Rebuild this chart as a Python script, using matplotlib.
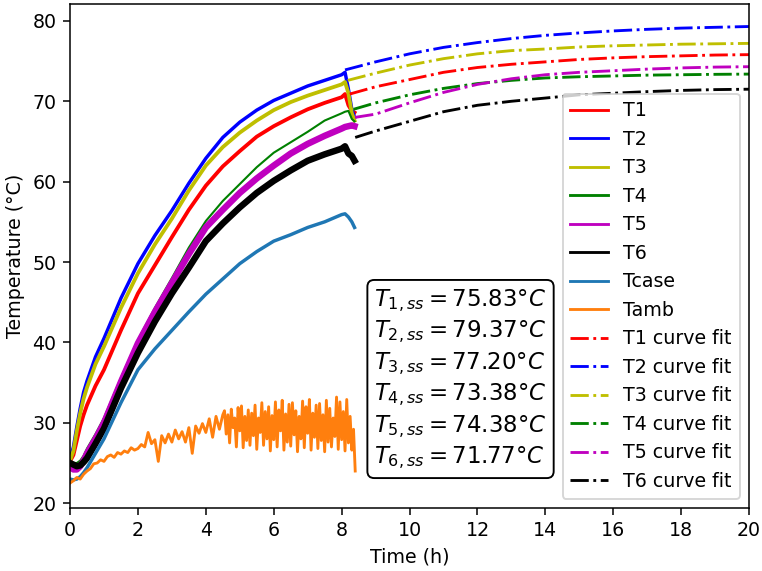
import numpy as np
import matplotlib
matplotlib.use("Agg")
import matplotlib.pyplot as plt

# ---------------- data ----------------
t_meas = [0.0, 0.1, 0.2, 0.3, 0.4, 0.5, 0.75, 1.0, 1.5, 2.0, 2.5, 3.0, 3.5, 4.0,
          4.5, 5.0, 5.5, 6.0, 6.5, 7.0, 7.5, 8.0, 8.1, 8.2, 8.3, 8.38]

T1 = [25.2, 26.0, 27.8, 29.6, 31.0, 32.2, 34.6, 36.6, 41.5, 46.1, 49.6, 53.1, 56.5, 59.5,
      61.9, 63.8, 65.6, 66.9, 68.0, 69.0, 69.8, 70.5, 70.9, 69.5, 68.8, 68.6]
T2 = [25.5, 27.0, 29.5, 31.8, 33.8, 35.2, 38.2, 40.5, 45.5, 49.8, 53.3, 56.4, 59.8, 62.9,
      65.5, 67.4, 68.9, 70.1, 71.0, 71.9, 72.6, 73.3, 73.6, 71.5, 69.0, 68.0]
T3 = [25.3, 26.5, 29.0, 31.2, 33.0, 34.4, 37.3, 39.5, 44.3, 48.6, 52.2, 55.4, 58.9, 62.0,
      64.3, 66.1, 67.6, 68.9, 69.9, 70.7, 71.4, 72.1, 72.4, 71.0, 68.5, 67.6]
T4 = [25.2, 25.0, 25.0, 25.3, 25.9, 26.8, 28.6, 30.6, 35.6, 40.3, 44.3, 48.0, 51.8, 55.1,
      57.6, 59.7, 61.8, 63.6, 64.9, 66.2, 67.6, 68.5, 68.7, 68.8, 67.8, 67.5]
T5 = [24.5, 24.2, 24.2, 24.6, 25.3, 26.2, 28.0, 30.0, 35.1, 39.9, 43.8, 47.4, 51.0, 54.3,
      56.5, 58.6, 60.4, 62.0, 63.5, 64.7, 65.7, 66.6, 66.8, 66.9, 67.0, 66.9]
T6 = [25.0, 24.8, 24.6, 24.7, 25.1, 25.6, 27.4, 29.3, 34.3, 38.7, 42.6, 46.1, 49.3, 52.6,
      54.8, 56.8, 58.6, 60.1, 61.4, 62.6, 63.4, 64.1, 64.4, 63.5, 63.2, 62.6]
Tcase = [23.0, 22.9, 23.0, 23.3, 23.8, 24.4, 26.2, 28.0, 32.5, 36.6, 39.2, 41.5, 43.8, 46.0,
         47.9, 49.8, 51.3, 52.6, 53.4, 54.3, 55.0, 55.9, 56.0, 55.6, 55.0, 54.3]

Tamb_a = [22.5, 22.8, 23.2, 23.0, 23.6, 24.0, 24.3, 24.9, 25.0, 25.4, 25.2, 25.8, 26.0,
          25.7, 26.3, 26.1, 26.5, 26.3, 26.9, 26.6, 26.8, 27.3, 27.0, 28.8, 27.4, 27.9,
          25.2, 28.4, 27.5, 28.6, 27.6, 29.1, 28.0, 28.9, 27.6, 29.4, 26.2, 29.6, 28.7,
          29.9, 28.8, 30.5, 28.2, 30.8, 29.2, 31.0]          # t = 0.0 ... 4.5
Tamb_b = [31.5, 28.6, 31.0, 27.5, 31.7, 29.4, 30.6, 27.0, 31.9, 29.0, 32.1, 26.9, 30.8,
          27.8, 31.6, 27.2, 31.2, 28.4, 32.2, 26.7, 30.6, 28.8, 32.5, 27.2, 31.4, 28.0,
          32.0, 26.5, 30.9, 27.9, 32.6, 27.0, 31.6, 29.0, 32.8, 26.6, 31.1, 27.6, 32.3,
          27.1, 32.5, 28.5, 31.5, 26.4, 30.8, 28.0, 32.7, 26.9, 32.0, 28.7, 32.9, 26.6,
          31.2, 28.2, 32.2, 26.8, 32.4, 27.8, 31.0, 26.4, 32.8, 27.6, 31.8, 27.0, 30.6,
          28.3, 33.2, 26.7, 32.6, 27.9, 31.4, 26.5, 32.9, 27.5, 30.8, 26.6, 29.2, 24.0]  # t = 4.55 ... 8.4

# curve fits: individual start point, then common grid
fit_t = [9, 10, 11, 12, 13, 14, 15, 16, 17, 18, 19, 20]
fit_start_t = {'T1': 8.24, 'T2': 8.1, 'T3': 8.18, 'T4': 8.35, 'T5': 8.4, 'T6': 8.4}
T1_fit = [70.9, 71.8, 72.7, 73.6, 74.2, 74.6, 74.9, 75.2, 75.4, 75.55, 75.65, 75.75, 75.8]
T2_fit = [73.9, 74.9, 75.9, 76.7, 77.3, 77.8, 78.2, 78.5, 78.75, 78.95, 79.1, 79.2, 79.3]
T3_fit = [72.6, 73.5, 74.5, 75.3, 75.9, 76.3, 76.5, 76.75, 76.9, 77.0, 77.1, 77.15, 77.2]
T4_fit = [69.0, 69.8, 70.8, 71.6, 72.2, 72.6, 72.9, 73.05, 73.15, 73.25, 73.3, 73.35, 73.38]
T5_fit = [68.0, 68.4, 69.8, 71.1, 72.1, 72.8, 73.3, 73.6, 73.8, 74.0, 74.15, 74.25, 74.3]
T6_fit = [65.5, 66.3, 67.5, 68.7, 69.5, 70.0, 70.4, 70.8, 71.0, 71.2, 71.35, 71.45, 71.5]

Tss = [75.83, 79.37, 77.20, 73.38, 74.38, 71.77]

# ---------------- figure ----------------
DPI = 137
fig = plt.figure(figsize=(762 / DPI, 571 / DPI), dpi=DPI)
ax = fig.add_axes([0.0919, 0.1103, 0.8911, 0.8827])

colors = ['r', 'b', 'y', 'g', 'm', 'k']
meas = [T1, T2, T3, T4, T5, T6]
widths = [2.0, 1.8, 2.0, 1.1, 3.4, 3.4]
for i, (T, c, w) in enumerate(zip(meas, colors, widths)):
    ax.plot(t_meas, T, color=c, lw=w, label=f'T{i+1}')
ax.plot(t_meas, Tcase, color='C0', lw=1.8, label='Tcase')
tamb_t = np.concatenate([np.linspace(0, 4.5, len(Tamb_a)), np.linspace(4.55, 8.4, len(Tamb_b))])
ax.plot(tamb_t, Tamb_a + Tamb_b, color='C1', lw=1.5, label='Tamb')

fits = [T1_fit, T2_fit, T3_fit, T4_fit, T5_fit, T6_fit]
for i, (F, c) in enumerate(zip(fits, colors)):
    tt = [fit_start_t[f'T{i+1}']] + fit_t
    ax.plot(tt, F, color=c, ls='-.', lw=1.5, label=f'T{i+1} curve fit')

ax.set_xlim(0, 20)
ax.set_ylim(19.4, 82.1)
ax.set_xticks(range(0, 21, 2))
ax.set_yticks(range(20, 81, 10))
ax.set_xlabel('Time (h)')
ax.set_ylabel('Temperature (°C)')

leg = ax.legend(loc='lower right')
for h in leg.get_lines():
    h.set_linewidth(1.5)

txt = '\n'.join([rf'$T_{{{i+1},ss}} = {v:.2f}°C$' for i, v in enumerate(Tss)])
ax.text(0.448, 0.073, txt, transform=ax.transAxes, fontsize=12, ha='left', va='bottom',
        linespacing=1.25,
        bbox=dict(boxstyle='round', facecolor='white', edgecolor='black'))

fig.savefig('out.png', dpi=DPI)
